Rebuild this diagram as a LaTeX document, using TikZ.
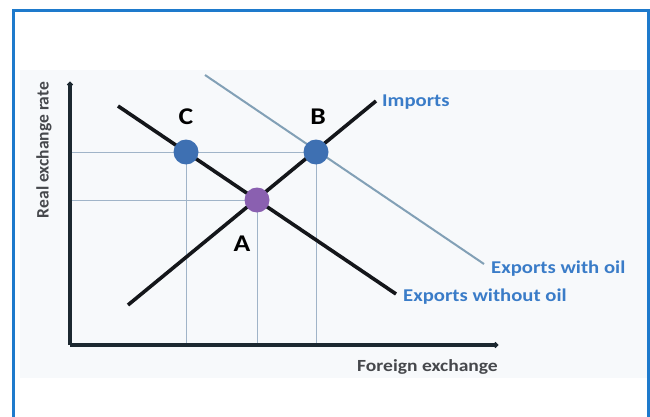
\documentclass[tikz,border=0pt]{standalone}
\usepackage{fontspec}
\setmainfont{Carlito}
\usetikzlibrary{arrows.meta}
\definecolor{frameblue}{RGB}{30,122,204}
\definecolor{panel}{RGB}{247,249,251}
\definecolor{axisdark}{RGB}{28,40,48}
\definecolor{curve}{RGB}{20,22,26}
\definecolor{oilline}{RGB}{130,160,182}
\definecolor{guide}{RGB}{160,180,200}
\definecolor{ptblue}{RGB}{62,112,178}
\definecolor{ptpurple}{RGB}{138,96,176}
\definecolor{lblblue}{RGB}{58,124,200}
\definecolor{axtext}{RGB}{70,72,76}
\newcommand{\stretchtxt}[1]{\scalebox{1.15}[1]{#1}}
\tikzset{
  axisline/.style={line width=3.2pt, draw=axisdark, -{Circle[length=5pt]}},
  demand/.style={line width=3.6pt, draw=curve},
  oilcurve/.style={line width=2pt, draw=oilline},
  guideline/.style={line width=0.9pt, draw=guide},
  eqpt/.style={circle, minimum size=25pt, inner sep=0pt, draw=none},
  ptlabel/.style={font=\bfseries\fontsize{24}{26}\selectfont, text=black, inner sep=0pt},
  curvelabel/.style={font=\bfseries\fontsize{18}{20}\selectfont, text=lblblue, inner sep=0pt, anchor=west},
  axislabel/.style={font=\bfseries\fontsize{17}{20}\selectfont, text=axtext, inner sep=0pt}
}
\begin{document}
\begin{tikzpicture}[x=1pt, y=-1pt]
\useasboundingbox (0,0) rectangle (650,417);
\fill[white] (0,0) rectangle (650,417);
% panel
\fill[panel] (20,70) rectangle (648,378);
% frame
\draw[frameblue, line width=3pt] (13,420) -- (13,11) -- (648,11) -- (648,420);

% named coordinates
\coordinate (O) at (70,345);
\coordinate (ytop) at (70,82);
\coordinate (xend) at (498,345);
\coordinate (Cp) at (186,152);
\coordinate (Bp) at (316,152);
\coordinate (Ap) at (257,200);
\coordinate (Cy) at (70,152);
\coordinate (Ay) at (70,200);
\coordinate (Cx) at (186,345);
\coordinate (Ax) at (257,345);
\coordinate (Bx) at (316,345);
\coordinate (ewoS) at (118,106);
\coordinate (ewoE) at (396,294);
\coordinate (impS) at (128,305);
\coordinate (impE) at (376,101);
\coordinate (ewS) at (205,75);
\coordinate (ewE) at (484,264);

% guides
\draw[guideline] (Cy) -- (Bp);
\draw[guideline] (Ay) -- (Ap);
\draw[guideline] (Cp) -- (Cx);
\draw[guideline] (Ap) -- (Ax);
\draw[guideline] (Bp) -- (Bx);

% axes
\draw[axisline] (O) -- (ytop);
\draw[axisline] (O) -- (xend);

% curves
\draw[oilcurve] (ewS) -- (ewE);
\draw[demand] (ewoS) -- (ewoE);
\draw[demand] (impS) -- (impE);

% points
\node[eqpt, fill=ptblue] (C) at (Cp) {};
\node[eqpt, fill=ptblue] (B) at (Bp) {};
\node[eqpt, fill=ptpurple] (A) at (Ap) {};

% point labels
\node[ptlabel] (Clbl) at (186,117) {\stretchtxt{C}};
\node[ptlabel] (Blbl) at (318,117) {\stretchtxt{B}};
\node[ptlabel] (Albl) at (242,244) {\stretchtxt{A}};

% curve labels
\node[curvelabel] (implbl) at (382,102) {\stretchtxt{Imports}};
\node[curvelabel] (ewlbl) at (491,269) {\stretchtxt{Exports with oil}};
\node[curvelabel] (ewolbl) at (403,297) {\stretchtxt{Exports without oil}};

% axis labels
\node[axislabel, anchor=east] (xlbl) at (498,367) {\stretchtxt{Foreign exchange}};
\node[axislabel, rotate=90, font=\bfseries\fontsize{17.5}{20}\selectfont] (ylbl) at (44,150) {Real exchange rate};
\end{tikzpicture}
\end{document}
